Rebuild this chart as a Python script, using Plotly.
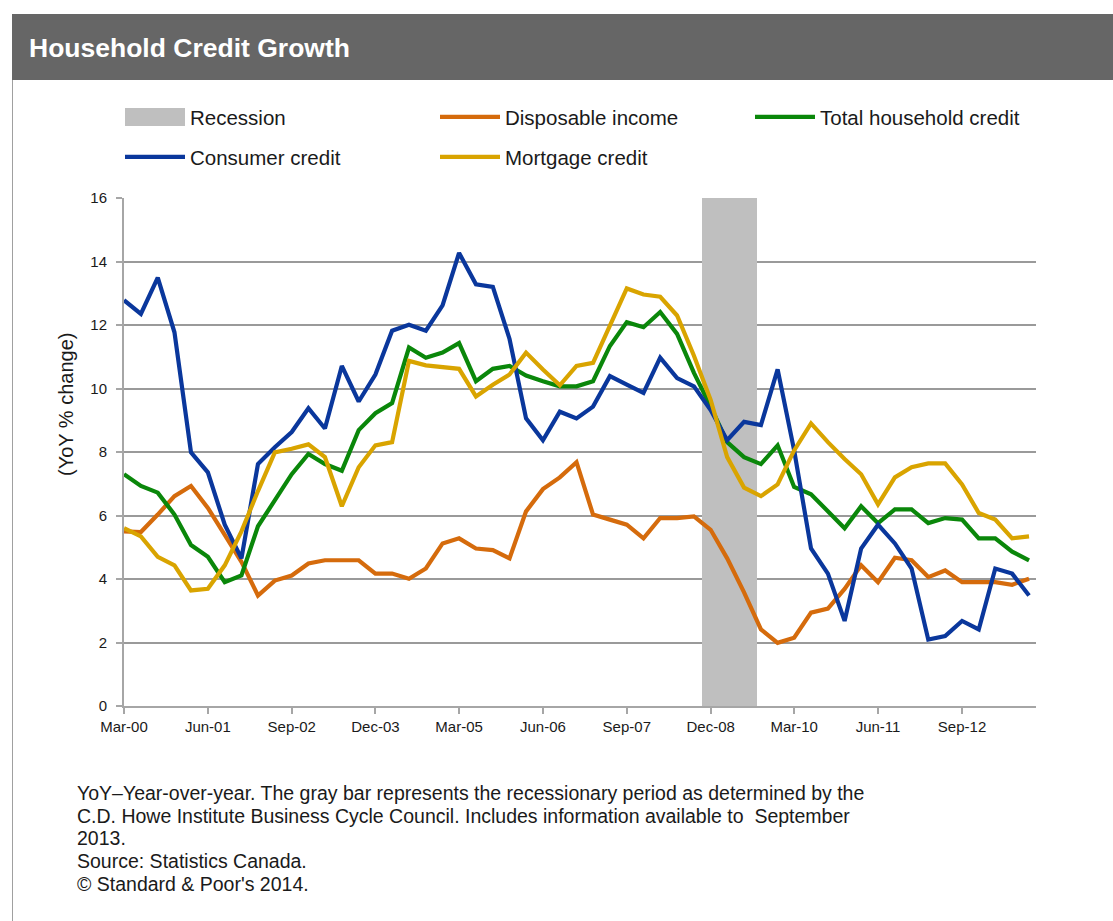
import pandas as pd
import plotly.graph_objects as go

# Quarterly observations, Mar-2000 through Sep-2013 (YoY % change)
quarters = pd.date_range("2000-03-01", periods=55, freq="3MS")

consumer_credit = [
    12.78, 12.35, 13.49, 11.77, 7.99, 7.36, 5.71, 4.65, 7.62, 8.15,
    8.63, 9.38, 8.74, 10.71, 9.59, 10.44, 11.82, 12.01, 11.82, 12.62,
    14.27, 13.28, 13.20, 11.56, 9.06, 8.37, 9.27, 9.06, 9.43, 10.39,
    10.12, 9.86, 10.97, 10.33, 10.07, 9.32, 8.37, 8.95, 8.85, 10.60,
    8.05, 4.96, 4.17, 2.68, 4.96, 5.71, 5.12, 4.33, 2.09, 2.20,
    2.68, 2.41, 4.33, 4.17, 3.48,
]
total_household_credit = [
    7.30, 6.93, 6.72, 6.03, 5.07, 4.70, 3.90, 4.11, 5.66, 6.51,
    7.30, 7.94, 7.62, 7.41, 8.69, 9.22, 9.54, 11.29, 10.97, 11.13,
    11.43, 10.23, 10.62, 10.71, 10.41, 10.23, 10.07, 10.07, 10.23, 11.34,
    12.09, 11.93, 12.41, 11.72, 10.49, 9.43, 8.31, 7.84, 7.62, 8.21,
    6.90, 6.67, 6.13, 5.60, 6.29, 5.76, 6.19, 6.19, 5.76, 5.92,
    5.87, 5.28, 5.28, 4.86, 4.59,
]
mortgage_credit = [
    5.60, 5.34, 4.70, 4.43, 3.64, 3.69, 4.43, 5.50, 6.77, 7.99,
    8.10, 8.24, 7.84, 6.29, 7.52, 8.21, 8.31, 10.87, 10.73, 10.68,
    10.62, 9.75, 10.12, 10.44, 11.13, 10.60, 10.10, 10.71, 10.81, 11.98,
    13.15, 12.96, 12.89, 12.30, 11.03, 9.64, 7.84, 6.88, 6.61, 6.98,
    8.05, 8.90, 8.31, 7.78, 7.30, 6.35, 7.20, 7.52, 7.64, 7.64,
    6.98, 6.08, 5.87, 5.28, 5.34,
]
disposable_income = [
    5.50, 5.48, 6.03, 6.61, 6.93, 6.24, 5.39, 4.54, 3.48, 3.95,
    4.11, 4.49, 4.59, 4.59, 4.59, 4.17, 4.17, 4.01, 4.33, 5.12,
    5.28, 4.96, 4.91, 4.65, 6.13, 6.83, 7.20, 7.68, 6.03, 5.87,
    5.71, 5.28, 5.92, 5.92, 5.97, 5.55, 4.65, 3.58, 2.41, 1.99,
    2.15, 2.94, 3.07, 3.69, 4.43, 3.90, 4.67, 4.59, 4.06, 4.27,
    3.90, 3.90, 3.90, 3.82, 4.01,
]

# Recessionary period (C.D. Howe Institute Business Cycle Council)
recession_start = pd.Timestamp("2008-10-15")
recession_end = pd.Timestamp("2009-08-12")
recession_top = 16

y_ticks = list(range(0, 17, 2))

footnote_lines = [
    "YoY\u2013Year-over-year. The gray bar represents the recessionary period as determined by the",
    "C.D. Howe Institute Business Cycle Council. Includes information available to  September",
    "2013.",
    "Source: Statistics Canada.",
    "\u00a9 Standard & Poor's 2014.",
]

FONT = "Liberation Sans, Arial, sans-serif"
TEXT = "#1a1a1a"
RECESSION_GRAY = "#BFBFBF"

# page geometry (pixels)
W, H = 1113, 921
PL, PR, PT, PB = 124, 1036, 198, 706
pw, ph = PR - PL, PB - PT


def px(x):
    return (x - PL) / pw


def py(y):
    return (PB - y) / ph


fig = go.Figure()

# recession band as a single wide column spanning the period
fig.add_trace(go.Bar(
    name="Recession",
    x=[recession_start + (recession_end - recession_start) / 2],
    y=[recession_top],
    width=[(recession_end - recession_start).total_seconds() * 1000],
    marker=dict(color=RECESSION_GRAY, line=dict(width=0)),
    showlegend=False,
    hoverinfo="skip",
))
# legend key for the recession band (wide gray swatch)
fig.add_trace(go.Scatter(
    name="Recession",
    x=[None], y=[None], mode="lines",
    line=dict(color=RECESSION_GRAY, width=18),
    legend="legend",
))

series = [
    ("Disposable income", disposable_income, "#D56B0C", "legend"),
    ("Total household credit", total_household_credit, "#0A870A", "legend"),
    ("Consumer credit", consumer_credit, "#0A379C", "legend2"),
    ("Mortgage credit", mortgage_credit, "#D9A400", "legend2"),
]
for name, vals, color, lg in series:
    fig.add_trace(go.Scatter(
        x=quarters, y=vals, name=name, mode="lines",
        line=dict(color=color, width=4.2),
        legend=lg,
    ))

legend_common = dict(
    orientation="h",
    xanchor="left",
    yanchor="middle",
    entrywidthmode="pixels",
    entrywidth=240,
    itemwidth=60,
    font=dict(family=FONT, size=20.5, color=TEXT),
    bgcolor="rgba(0,0,0,0)",
    traceorder="normal",
)
fig.update_layout(
    legend=dict(x=px(120), y=py(117), **legend_common),
    legend2=dict(x=px(120), y=py(157), **legend_common),
)

fig.update_xaxes(
    type="date",
    range=["2000-03-01", "2013-10-09"],
    tick0="2000-03-01",
    dtick="M15",
    tickformat="%b-%y",
    showgrid=False,
    showline=True,
    linecolor="#A6A6A6",
    linewidth=2,
    ticks="outside",
    ticklen=6,
    tickwidth=1.5,
    tickcolor="#A6A6A6",
    tickfont=dict(family=FONT, size=15, color=TEXT),
    zeroline=False,
)
fig.update_yaxes(
    range=[0, 16],
    tickvals=y_ticks,
    showgrid=True,
    gridcolor="#9A9A9A",
    gridwidth=1.5,
    showline=True,
    linecolor="#A6A6A6",
    linewidth=2,
    ticks="outside",
    ticklen=6,
    tickwidth=1.5,
    tickcolor="#A6A6A6",
    ticklabelstandoff=6,
    tickfont=dict(family=FONT, size=15, color=TEXT),
    zeroline=False,
)

shapes = [
    # title band
    dict(type="rect", xref="paper", yref="paper",
         x0=px(12), x1=px(W + 5), y0=py(80), y1=py(14),
         fillcolor="#666666", line=dict(width=0), layer="below"),
    # left frame rule
    dict(type="line", xref="paper", yref="paper",
         x0=px(12.5), x1=px(12.5), y0=py(80), y1=py(H + 5),
         line=dict(color="#A0A0A0", width=1)),
    # taller swatch block for the recession legend key
    dict(type="rect", xref="paper", yref="paper",
         x0=px(125), x1=px(185), y0=py(126), y1=py(108),
         fillcolor=RECESSION_GRAY, line=dict(width=0), layer="above"),
]

annotations = [
    dict(text="<b>Household Credit Growth</b>", xref="paper", yref="paper",
         x=px(27), y=py(48), xanchor="left", yanchor="middle", showarrow=False,
         font=dict(family=FONT, size=26.5, color="white")),
    dict(text="(YoY % change)", xref="paper", yref="paper",
         x=px(66), y=py(405), xanchor="center", yanchor="middle", showarrow=False,
         textangle=-90, font=dict(family=FONT, size=20, color=TEXT)),
]

# footnote, one annotation per line with fixed leading
line_y = [793, 816, 838, 861, 884]
for text, yc in zip(footnote_lines, line_y):
    annotations.append(dict(
        text=text, xref="paper", yref="paper",
        x=px(75), y=py(yc), xanchor="left", yanchor="middle", align="left",
        showarrow=False, font=dict(family=FONT, size=19.5, color=TEXT),
    ))

fig.update_layout(
    width=W, height=H,
    margin=dict(l=PL, r=W - PR, t=PT, b=H - PB, pad=0),
    paper_bgcolor="white",
    plot_bgcolor="white",
    shapes=shapes,
    annotations=annotations,
    bargap=0,
    hovermode=False,
)

fig.write_html("out.html")
